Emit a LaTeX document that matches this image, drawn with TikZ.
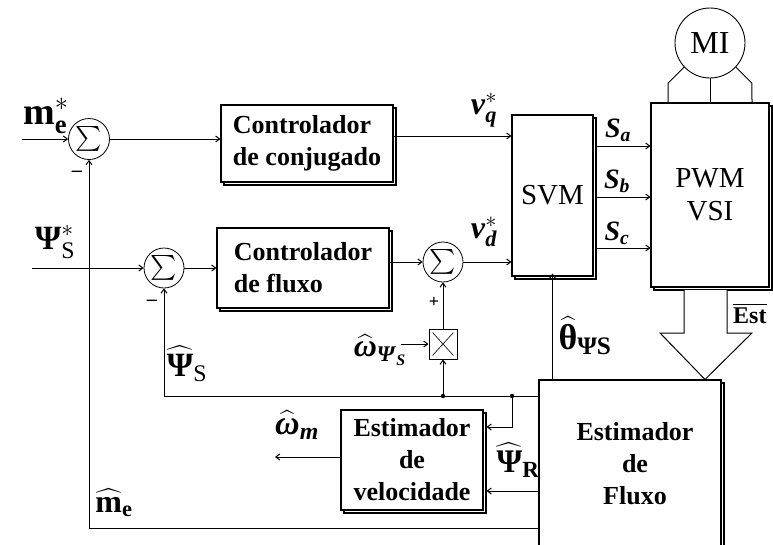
\RequirePackage{fix-cm}
\documentclass[tikz,border=0pt]{standalone}
\usepackage{amsmath}
\usepackage{fontspec}
\setmainfont{Liberation Serif}
\usetikzlibrary{arrows.meta,shadows,calc}
\tikzset{
  arr/.style={line width=1pt, -{Straight Barb[length=4pt,width=6pt]}},
  ln/.style={line width=1pt},
  blk/.style={draw, line width=1.1pt, fill=white, inner sep=0pt,
    general shadow={shadow xshift=3pt, shadow yshift=-3pt, draw=black, fill=white, line width=1.1pt}},
  sumn/.style={circle, draw, line width=0.8pt, inner sep=0pt, minimum size=41pt, fill=white},
  btxt/.style={font=\fontsize{26}{32}\selectfont\bfseries},
  rtxt/.style={font=\fontsize{29}{33}\selectfont, align=center},
  lbl/.style={inner sep=0pt},
}
\newcommand{\fs}[1]{\fontsize{#1}{#1}\selectfont}
\begin{document}
\begin{tikzpicture}[x=1pt,y=-1pt]
\useasboundingbox (0,0) rectangle (773,544);
% blocks
\node[blk, minimum width=172pt, minimum height=77pt, btxt, align=left] (conj) at (307,143.5) {Controlador\\de conjugado};
\node[blk, minimum width=172pt, minimum height=80pt, btxt, align=left] (fctl) at (303,268) {Controlador\\de fluxo};
\node[blk, minimum width=81pt, minimum height=161pt, rtxt] (svm) at (552.5,195.5) {SVM};
\node[blk, minimum width=118pt, minimum height=184pt, rtxt] (pwm) at (710,195) {PWM\\VSI};
\node[draw, circle, line width=0.9pt, minimum size=70pt, inner sep=0pt, font=\fs{32}] (mi) at (710,43) {MI};
\node[blk, minimum width=182pt, minimum height=180pt] (fest) at (630,470) {};
\node[btxt, align=center] (festt) at (635,464) {Estimador\\de\\Fluxo};
\node[blk, minimum width=142pt, minimum height=100pt, btxt, align=center] (vel) at (412,460) {Estimador\\de\\velocidade};
\coordinate (velr) at ([xshift=3pt]vel.east);
% sums
\node[sumn] (s1) at (89,139) {\fs{27}$\sum$};
\node[sumn, minimum size=40pt] (s2) at (164,268) {\fs{27}$\sum$};
\node[sumn, minimum size=40pt] (s3) at (443,262) {\fs{27}$\sum$};
% multiplier
\node[draw, line width=1pt, minimum width=28pt, minimum height=30pt, inner sep=0pt, fill=white] (mult) at (443,344) {};
\draw[line width=0.6pt] ([shift={(4,-4)}]mult.south west) -- ([shift={(-4,4)}]mult.north east);
\draw[line width=0.6pt] ([shift={(4,4)}]mult.north west) -- ([shift={(-4,-4)}]mult.south east);
% coordinates
\coordinate (in1) at (22,139);
\coordinate (in2) at (32,268);
\coordinate (win) at (401,344);
\coordinate (wmout) at (275,457);
\coordinate (j1) at (mult |- 0,396);
\coordinate (j2) at (512,396);
% connectors
\draw[arr] (in1) -- (s1);
\draw[arr] (s1) -- (s1 -| conj.west);
\draw[arr] (conj.east |- 0,136) -- (svm.west |- 0,136);
\draw[arr] (in2) -- (s2);
\draw[arr] (s2) -- (s2 -| fctl.west);
\draw[arr] (fctl.east |- s3) -- (s3);
\draw[arr] (s3) -- (s3 -| svm.west);
\foreach \yy in {146,197,248} {\draw[arr] ([xshift=3pt]svm.east |- 0,\yy) -- (pwm.west |- 0,\yy);}
\draw[ln] (mi.south) -- (pwm.north);
\draw[ln] (mi.223) -- ++(-16,16) -- (pwm.north -| 668,0);
\draw[ln] (mi.317) -- ++(16,16) -- (pwm.north -| 752,0);
\draw[line width=1pt, fill=white] (684,290) -- (684,333) -- (660,333) -- (fest.north -| 705,0) -- (752,333) -- (727,333) -- (727,290);
\draw[arr] (fest.north -| svm.south) -- ([yshift=3pt]svm.south);
\draw[arr] (fest.west |- 0,396) -- (s2 |- 0,396) -- (s2);
\fill (j1) circle (2.2pt);
\fill (j2) circle (2.2pt);
\draw[arr] (j1) -- (mult);
\draw[arr] (mult) -- (s3);
\draw[arr] (win) -- (mult);
\draw[arr] (j2) |- (velr |- 0,427);
\draw[arr] (fest.west |- 0,491) -- (velr |- 0,491);
\draw[arr] (vel.west |- wmout) -- (wmout);
\draw[arr] (fest.west |- 0,528) -- (s1 |- 0,528) -- (s1);
% labels
\node[lbl] (lme) at (46,116) {\fs{38}$\textbf{m}_{\textbf{e}}^{\ast}$};
\node[lbl] (lps) at (55,242) {\fs{34}$\textbf{Ψ}_{\text{S}}^{\ast}$};
\node[lbl] (lvq) at (484,110) {\fs{32}$\textbf{\textit{v}}_{\textbf{\textit{q}}}^{\ast}$};
\node[lbl] (lvd) at (484,232) {\fs{32}$\textbf{\textit{v}}_{\textbf{\textit{d}}}^{\ast}$};
\node[lbl] (lsa) at (618,130) {\fs{28}$\textbf{\textit{S}}_{\textbf{\textit{a}}}$};
\node[lbl] (lsb) at (617,181) {\fs{28}$\textbf{\textit{S}}_{\textbf{\textit{b}}}$};
\node[lbl] (lsc) at (617,233) {\fs{28}$\textbf{\textit{S}}_{\textbf{\textit{c}}}$};
\node[lbl] (lpsh) at (187,364) {\fs{34}$\widehat{\textbf{Ψ}}_{\text{S}}$};
\node[lbl] (lwps) at (380,350) {\fs{32}$\widehat{\textbf{\textit{ω}}}_{\textbf{\textit{Ψ}}_{\textbf{\textit{S}}}}$};
\node[lbl] (lth) at (585,336) {\fs{36}$\widehat{\textbf{θ}}_{\textbf{ΨS}}$};
\node[lbl] (lwm) at (297,425) {\fs{34}$\widehat{\textbf{\textit{ω}}}_{\textbf{\textit{m}}}$};
\node[lbl] (lmeh) at (114,503) {\fs{32}$\widehat{\textbf{m}}_{\textbf{e}}$};
\node[lbl] (lpr) at (518,460) {\fs{33}$\widehat{\textbf{Ψ}}_{\textbf{R}}$};
\node[lbl, anchor=west] (lest) at (733,313) {\fs{24}$\overline{\textbf{Est}}$};
\node[lbl] (m1) at (77,174) {\fs{20}\textbf{–}};
\node[lbl] (m2) at (152,303) {\fs{20}\textbf{–}};
\node[lbl] (p3) at (434,302) {\fs{18}\textbf{+}};
\end{tikzpicture}
\end{document}
